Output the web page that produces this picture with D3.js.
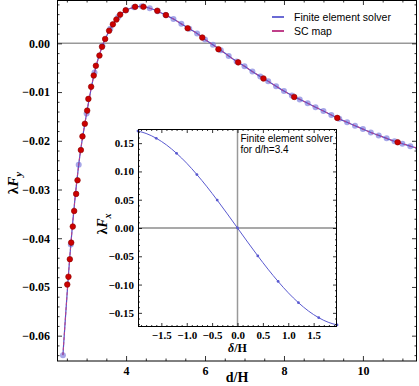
<!DOCTYPE html>
<html><head><meta charset="utf-8">
<script src="https://cdnjs.cloudflare.com/ajax/libs/d3/7.8.5/d3.min.js"></script>
<style>body{margin:0;background:#fff}svg{display:block}</style>
</head><body>
<svg id="c" width="419" height="386"></svg>
<script>
// ---- main plot data ----
const feX = [2.4,2.6,2.8,3.0,3.2,3.4,3.6,3.8,4.0,4.2,4.4,4.6,4.8,5.0,5.2,5.4,5.6,5.8,6.0,6.2,6.4,6.6,6.8,7.0,7.2,7.4,7.6,7.8,8.0,8.2,8.4,8.6,8.8,9.0,9.2,9.4,9.6,9.8,10.0,10.2,10.4,10.6,10.8,11.0,11.2,11.4];
const feY = [-0.0640,-0.0413,-0.0249,-0.0144,-0.0060,-0.0005,0.0030,0.0054,0.0068,0.0074,0.0076,0.0072,0.0066,0.0058,0.0050,0.0040,0.0030,0.0020,0.0008,-0.0003,-0.0014,-0.0026,-0.0037,-0.0047,-0.0058,-0.0068,-0.0078,-0.0088,-0.0098,-0.0107,-0.0115,-0.0123,-0.0131,-0.0139,-0.0147,-0.0155,-0.0162,-0.0169,-0.0176,-0.0183,-0.0189,-0.0195,-0.0201,-0.0206,-0.0211,-0.0216];
const scX = [2.51,2.54,2.575,2.61,2.65,2.685,2.735,2.77,2.855,2.895,2.955,3.015,3.045,3.115,3.18,3.235,3.325,3.39,3.47,3.57,3.665,3.755,3.85,3.99,4.23,4.44,4.79,5.01,5.56,5.93,6.34,6.84,7.48,8.26,9.35,10.88];
const scY = [-0.0495,-0.0479,-0.0443,-0.0409,-0.0376,-0.0344,-0.0309,-0.0281,-0.0219,-0.0191,-0.0165,-0.0138,-0.0114,-0.0089,-0.0066,-0.0046,-0.0025,-0.0007,0.0009,0.0026,0.0039,0.0049,0.0059,0.0068,0.0075,0.0075,0.0067,0.0058,0.0031,0.0012,-0.0012,-0.0039,-0.0072,-0.0110,-0.0153,-0.0203];
const xTicks = [4,6,8,10];
const yTicks = [0.00,-0.01,-0.02,-0.03,-0.04,-0.05,-0.06];
const legendLabels = ["Finite element solver","SC map"];

// ---- inset data ----
const inDelta = [-1.96,-1.8,-1.6,-1.4,-1.2,-1.0,-0.8,-0.6,-0.4,-0.2,0,0.2,0.4,0.6,0.8,1.0,1.2,1.4,1.6,1.8,1.96];
const inFx = [0.1713,0.1671,0.1586,0.1469,0.1320,0.1145,0.0945,0.0727,0.0493,0.0249,0,-0.0249,-0.0493,-0.0727,-0.0945,-0.1145,-0.1320,-0.1469,-0.1586,-0.1671,-0.1713];
const inXTicks = [-1.5,-1.0,-0.5,0.0,0.5,1.0,1.5];
const inYTicks = [0.15,0.10,0.05,0.00,-0.05,-0.10,-0.15];
const inNote = ["Finite element solver","for d/h=3.4"];

const svg = d3.select("#c");
const serif = "'Liberation Serif','Times New Roman',serif";
const sans = "'Liberation Sans',Arial,sans-serif";
const fmt2 = d => (d<0?"\u2212":"") + Math.abs(d).toFixed(2);
const fmt1 = d => (d<0?"\u2212":"") + Math.abs(d).toFixed(1);

// main scales
const L=57, R=417, T=0, B=361;
const x = d3.scaleLinear().domain([2.25,11.37]).range([L,R]);
const y = d3.scaleLinear().domain([-0.0652,0.0089]).range([B,T]);

function styleAxis(g, fs){
  g.select(".domain").remove();
  g.selectAll("line").attr("stroke","#000").attr("stroke-width",0.8);
  g.selectAll("text").attr("font-family",serif).attr("font-weight","bold").attr("font-size",fs).attr("fill","#000");
}
function frameAxes(xs, ys, l, r, t, b, xMaj, xMin, yMaj, yMin, xLab, yLab, fs, maj, mn, xpad, ypad){
  styleAxis(svg.append("g").attr("transform",`translate(0,${b})`)
    .call(d3.axisBottom(xs).tickValues(xMaj).tickSize(-maj).tickPadding(xpad).tickFormat(xLab)), fs);
  styleAxis(svg.append("g").attr("transform",`translate(0,${b})`).call(d3.axisBottom(xs).tickValues(xMin).tickSize(-mn).tickFormat("")), fs);
  styleAxis(svg.append("g").attr("transform",`translate(0,${t})`).call(d3.axisTop(xs).tickValues(xMaj).tickSize(-maj).tickFormat("")), fs);
  styleAxis(svg.append("g").attr("transform",`translate(0,${t})`).call(d3.axisTop(xs).tickValues(xMin).tickSize(-mn).tickFormat("")), fs);
  styleAxis(svg.append("g").attr("transform",`translate(${l},0)`)
    .call(d3.axisLeft(ys).tickValues(yMaj).tickSize(-maj).tickPadding(ypad).tickFormat(yLab)), fs);
  styleAxis(svg.append("g").attr("transform",`translate(${l},0)`).call(d3.axisLeft(ys).tickValues(yMin).tickSize(-mn).tickFormat("")), fs);
  styleAxis(svg.append("g").attr("transform",`translate(${r},0)`).call(d3.axisRight(ys).tickValues(yMaj).tickSize(-maj).tickFormat("")), fs);
  styleAxis(svg.append("g").attr("transform",`translate(${r},0)`).call(d3.axisRight(ys).tickValues(yMin).tickSize(-mn).tickFormat("")), fs);
}

// zero line
svg.append("line").attr("x1",L).attr("x2",R).attr("y1",y(0)).attr("y2",y(0))
  .attr("stroke","#999").attr("stroke-width",1.5);

const xMinor = d3.range(5,23,1).map(v=>v/2).filter(v=>!xTicks.includes(v));
const yMinor = d3.range(-64,9,2).map(v=>v/1000).filter(v=>v%10!==0).map(v=>v);
const yMinorVals = d3.range(-32,5,1).filter(v=>v%5!==0).map(v=>v*0.002);

svg.append("clipPath").attr("id","mclip").append("rect").attr("x",L).attr("y",T).attr("width",R-L).attr("height",B-T);
const plot = svg.append("g").attr("clip-path","url(#mclip)");

// FE dots
const feData = feX.map((v,i)=>[v,feY[i]]);
plot.selectAll(".fe").data(feData).join("circle")
  .attr("cx",d=>x(d[0])).attr("cy",d=>y(d[1])).attr("r",3)
  .attr("fill","#8a8ae0").attr("fill-opacity",0.75);

// lines
const line = d3.line().x(d=>x(d[0])).y(d=>y(d[1])).curve(d3.curveMonotoneX);
plot.append("path").attr("d",line(feData)).attr("fill","none").attr("stroke","#5252c8").attr("stroke-width",1.2);
plot.append("path").attr("d",line(feData)).attr("fill","none").attr("stroke","#c0408a").attr("stroke-width",1).attr("stroke-dasharray","3,2");

// SC dots
plot.selectAll(".sc").data(scX.map((v,i)=>[v,scY[i]])).join("circle")
  .attr("cx",d=>x(d[0])).attr("cy",d=>y(d[1])).attr("r",2.8)
  .attr("fill","#cc0000").attr("stroke","#8a0000").attr("stroke-width",0.6);

frameAxes(x,y,L,R,T,B,xTicks,xMinor,yTicks,yMinorVals,d=>String(d),fmt2,12,5,2.5,5,7);
svg.append("rect").attr("x",L+0.5).attr("y",T+0.5).attr("width",R-L-1).attr("height",B-T-0.5)
  .attr("fill","none").attr("stroke","#000").attr("stroke-width",1);

// legend
const legCol = ["#6a6ad4","#c0408a"];
legendLabels.forEach((t,i)=>{
  const ly = 17 + i*14;
  svg.append("line").attr("x1",272).attr("x2",284).attr("y1",ly).attr("y2",ly).attr("stroke",legCol[i]).attr("stroke-width",2);
  svg.append("text").attr("x",294).attr("y",ly+3.8).attr("font-family",sans).attr("font-size",10.5).attr("fill","#000").text(t);
});

// axis titles main
svg.append("text").attr("x",(L+R)/2).attr("y",382).attr("text-anchor","middle")
  .attr("font-family",serif).attr("font-weight","bold").attr("font-size",14).text("d/H");
const yl = svg.append("text").attr("transform","translate(18,183) rotate(-90)").attr("text-anchor","middle")
  .attr("font-family",serif).attr("font-weight","bold").attr("font-size",15);
yl.append("tspan").text("\u03bb");
yl.append("tspan").attr("font-style","italic").text("F");
yl.append("tspan").attr("font-style","italic").attr("font-size",11).attr("dy",4).text("y");

// ---- inset ----
const iL=138, iR=337, iT=129, iB=327;
svg.append("rect").attr("x",iL).attr("y",iT).attr("width",iR-iL).attr("height",iB-iT).attr("fill","#fff");
const ix = d3.scaleLinear().domain([-1.96,1.96]).range([iL,iR]);
const iy = d3.scaleLinear().domain([-0.175,0.175]).range([iB,iT]);
svg.append("line").attr("x1",iL).attr("x2",iR).attr("y1",iy(0)).attr("y2",iy(0)).attr("stroke","#555").attr("stroke-width",1.2);
svg.append("line").attr("x1",ix(0)).attr("x2",ix(0)).attr("y1",iT).attr("y2",iB).attr("stroke","#999").attr("stroke-width",1.5);
const inData = inDelta.map((v,i)=>[v,inFx[i]]);
svg.append("path").attr("d",d3.line().x(d=>ix(d[0])).y(d=>iy(d[1])).curve(d3.curveMonotoneX)(inData))
  .attr("fill","none").attr("stroke","#5a5ad0").attr("stroke-width",1);
svg.selectAll(".ind").data(inData.filter((d,i)=>i%2===0)).join("circle")
  .attr("cx",d=>ix(d[0])).attr("cy",d=>iy(d[1])).attr("r",1.4).attr("fill","#5a5ad0");
const ixMinor = d3.range(-19,20,1).filter(v=>v%5!==0).map(v=>v/10);
const iyMinor = d3.range(-17,18,1).filter(v=>v%5!==0).map(v=>v/100);
frameAxes(ix,iy,iL,iR,iT,iB,inXTicks,ixMinor,inYTicks,iyMinor,fmt1,fmt2,11,4,2,4,4);
svg.append("rect").attr("x",iL+0.5).attr("y",iT+0.5).attr("width",iR-iL-1).attr("height",iB-iT-1)
  .attr("fill","none").attr("stroke","#000").attr("stroke-width",1);
inNote.forEach((t,i)=>{
  svg.append("text").attr("x",ix(0)+3).attr("y",142+i*11).attr("font-family",sans).attr("font-size",10).attr("fill","#000").text(t);
});
const dl = svg.append("text").attr("x",ix(0)).attr("y",352).attr("text-anchor","middle")
  .attr("font-family",serif).attr("font-weight","bold").attr("font-size",12);
dl.append("tspan").attr("font-style","italic").text("\u03b4");
dl.append("tspan").text("/H");
const il = svg.append("text").attr("transform","translate(107,224) rotate(-90)").attr("text-anchor","middle")
  .attr("font-family",serif).attr("font-weight","bold").attr("font-size",14);
il.append("tspan").text("\u03bb");
il.append("tspan").attr("font-style","italic").text("F");
il.append("tspan").attr("font-style","italic").attr("font-size",10).attr("dy",4).text("x");
</script>
</body></html>
